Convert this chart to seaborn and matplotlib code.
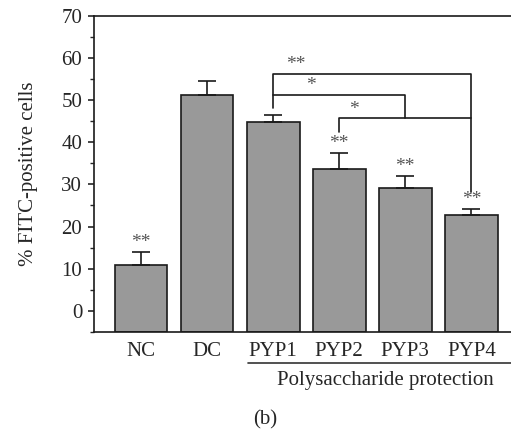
import matplotlib
matplotlib.use('Agg')
import matplotlib.pyplot as plt
import seaborn as sns
import pandas as pd
import numpy as np

sns.set_style('ticks')
plt.rcParams['font.family'] = ['Liberation Serif', 'DejaVu Serif']

groups = ['NC', 'DC', 'PYP1', 'PYP2', 'PYP3', 'PYP4']
means = [11.0, 51.1, 44.8, 33.7, 29.1, 22.7]
errs = [3.0, 3.5, 1.7, 3.8, 2.8, 1.5]
stars = ['**', '', '', '**', '**', '**']   # significance vs DC
y_floor = -5    # bars start at the bottom of the axis, not at 0

df = pd.DataFrame({'group': groups, 'value': means})

fig = plt.figure(figsize=(5.11, 4.34), dpi=100)
ax = fig.add_axes([0.184, 0.235, 0.816, 0.729])
sns.barplot(data=df, x='group', y='value', color='#999999', width=0.8,
            edgecolor='#1a1a1a', linewidth=1.2, saturation=1, ax=ax)
for p in ax.patches:   # extend the bars down to the axis floor
    top = p.get_y() + p.get_height()
    p.set_y(y_floor)
    p.set_height(top - y_floor)
x = np.arange(len(groups))
ax.errorbar(x, means, yerr=[np.zeros(len(errs)), errs], fmt='none',
            ecolor='#1a1a1a', elinewidth=1.2, capsize=6.8, capthick=1.2)

star_kw = dict(ha='center', va='center', fontsize=14, color='#555555')
for xi, m, e, s in zip(x, means, errs, stars):
    if s:
        ax.text(xi, m + e + 2.3, s, **star_kw)

# brackets between groups
lc = '#1a1a1a'
ax.plot([2, 2, 5, 5], [48.0, 56.2, 56.2, 28.2], color=lc, lw=1.2)
ax.plot([2, 2, 4, 4], [51.3, 51.3, 51.3, 45.8], color=lc, lw=1.2)
ax.plot([3, 3, 5], [42.5, 45.8, 45.8], color=lc, lw=1.2)
ax.text(2.35, 58.4, '**', **star_kw)
ax.text(2.57, 53.5, '*', **star_kw)
ax.text(3.22, 47.8, '*', **star_kw)

ax.set_xlim(-0.71, 5.6)
ax.set_ylim(y_floor, 70)
ax.set_yticks(range(0, 71, 10))
ax.set_yticks(range(-5, 70, 10), minor=True)
ax.tick_params(axis='y', labelsize=15, length=4.5, width=1.2, direction='out', pad=4)
ax.tick_params(axis='y', which='minor', length=3, width=1)
ax.tick_params(axis='x', labelsize=15, length=0, pad=7)
ax.set_xlabel('')
ax.set_ylabel('% FITC-positive cells', fontsize=15, labelpad=17)
for side in ['left', 'top', 'bottom']:
    ax.spines[side].set_linewidth(1.2)
    ax.spines[side].set_color('#1a1a1a')
ax.spines['right'].set_visible(False)

# group line and caption
fig.add_artist(plt.Line2D([248 / 511, 1.0], [1 - 363 / 434] * 2, color='#333333', lw=1.2))
fig.text(385 / 511, 1 - 380 / 434, 'Polysaccharide protection', ha='center', va='center', fontsize=15)
fig.text(265 / 511, 1 - 420 / 434, '(b)', ha='center', va='center', fontsize=15)

fig.savefig('out.png', dpi=100)
